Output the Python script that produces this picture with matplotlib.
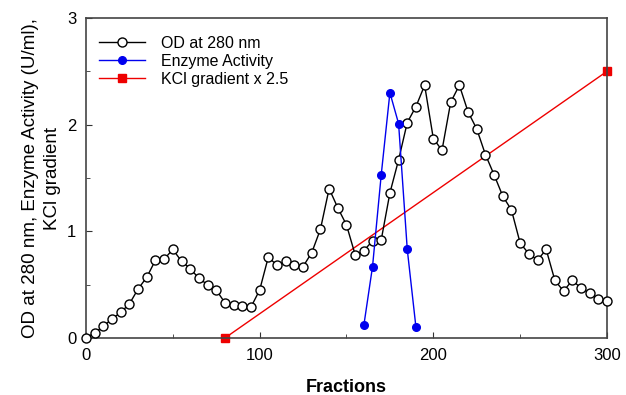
import matplotlib
matplotlib.use("Agg")
import matplotlib.pyplot as plt
from matplotlib.ticker import MultipleLocator

plt.rcParams['font.family'] = ['Liberation Sans', 'DejaVu Sans']

od_fractions = list(range(0, 301, 5))
od_values = [0.00, 0.05, 0.11, 0.18, 0.24, 0.32, 0.46, 0.57, 0.73, 0.74,
             0.83, 0.72, 0.65, 0.56, 0.50, 0.45, 0.33, 0.31, 0.30, 0.29,
             0.45, 0.76, 0.68, 0.72, 0.68, 0.67, 0.80, 1.02, 1.40, 1.22,
             1.06, 0.78, 0.82, 0.91, 0.92, 1.36, 1.67, 2.02, 2.17, 2.37,
             1.87, 1.76, 2.21, 2.37, 2.12, 1.96, 1.72, 1.53, 1.33, 1.20,
             0.89, 0.79, 0.73, 0.83, 0.54, 0.44, 0.54, 0.47, 0.42, 0.37,
             0.35]

enz_fractions = [160, 165, 170, 175, 180, 185, 190]
enz_values = [0.12, 0.67, 1.53, 2.30, 2.01, 0.83, 0.10]

kcl_fractions = [80, 300]
kcl_values = [0.0, 2.5]

fig = plt.figure(figsize=(6.26, 3.95), dpi=100)
ax = fig.add_axes([0.1374, 0.1443, 0.8322, 0.8101])

ax.plot(od_fractions, od_values, color='black', lw=1.0, marker='o',
        markersize=6.5, markerfacecolor='white', markeredgecolor='black',
        markeredgewidth=1.0, label='OD at 280 nm', zorder=3)
ax.plot(enz_fractions, enz_values, color='#0000ee', lw=1.0, marker='o',
        markersize=5.5, markerfacecolor='#0000ee', markeredgecolor='#0000ee',
        label='Enzyme Activity', zorder=4)
ax.plot(kcl_fractions, kcl_values, color='#ee0000', lw=1.0, marker='s',
        markersize=6, markerfacecolor='#ee0000', markeredgecolor='#ee0000',
        label='KCl gradient x 2.5', zorder=2)

ax.set_xlim(0, 300)
ax.set_ylim(0, 3)
ax.set_xticks([0, 100, 200, 300])
ax.set_yticks([0, 1, 2, 3])
ax.xaxis.set_minor_locator(MultipleLocator(50))
ax.yaxis.set_minor_locator(MultipleLocator(0.5))
ax.tick_params(which='both', direction='in', labelsize=12, color='#333333')
ax.tick_params(which='major', length=4)
ax.tick_params(which='minor', length=3)
ax.tick_params(axis='x', pad=7)
ax.tick_params(axis='y', pad=7)
for s in ax.spines.values():
    s.set_color('#444444')
    s.set_linewidth(1.2)

ax.set_xlabel('Fractions', fontsize=13, fontweight='bold')
ax.xaxis.set_label_coords(0.5, -0.128)
ax.set_ylabel('OD at 280 nm, Enzyme Activity (U/ml),\nKCl gradient', fontsize=13.5,
              multialignment='center', linespacing=1.35)
ax.yaxis.set_label_coords(-0.048, 0.5)

for line in ax.lines:
    line.set_clip_on(False)

leg = ax.legend(loc='upper left', frameon=False, fontsize=11.5, handlelength=2.9,
                bbox_to_anchor=(0.0, 0.985), borderaxespad=0.4, labelspacing=0.2,
                handletextpad=1.0)

fig.savefig('out.png', dpi=100)
